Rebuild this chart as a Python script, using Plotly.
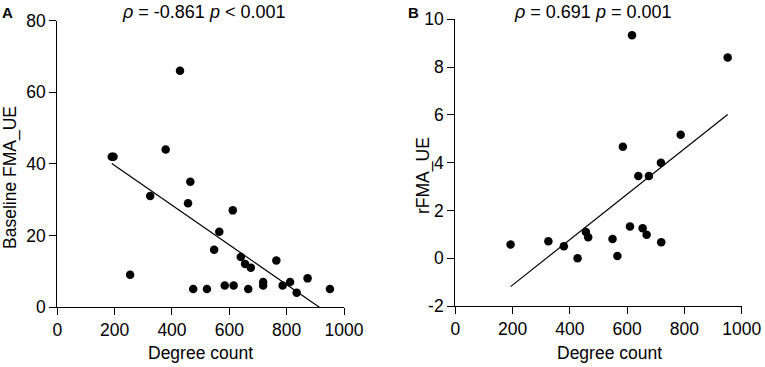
import numpy as np
import plotly.graph_objects as go

# Panel A data
deg_a = [190, 196, 428, 378, 464, 324, 456, 612, 565, 547, 640, 655, 675, 764, 254,
         474, 522, 584, 615, 666, 718, 718, 786, 812, 835, 873, 951]
fma_a = [42, 42, 66, 44, 35, 31, 29, 27, 21, 16, 14, 12, 11, 13, 9,
         5, 5, 6, 6, 5, 7, 6, 6, 7, 4, 8, 5]
# regression (slope, intercept) as drawn in the figure
fit_a = [-0.0555, 50.66]

# Panel B data
deg_b = [193, 325, 379, 427, 456, 464, 549, 566, 585, 610, 617, 639, 654, 668, 676,
         718, 719, 787, 951]
rfma_b = [0.57, 0.71, 0.50, 0.0, 1.10, 0.88, 0.80, 0.09, 4.67, 1.33, 9.33, 3.44,
          1.25, 0.98, 3.44, 4.0, 0.67, 5.17, 8.4]
fit_b = [0.00951, -3.025]

title_a = "<i>ρ</i> = -0.861 <i>p</i> &lt; 0.001"
title_b = "<i>ρ</i> = 0.691 <i>p</i> = 0.001"
xticks = [0, 200, 400, 600, 800, 1000]
yticks_a = [0, 20, 40, 60, 80]
yticks_b = [-2, 0, 2, 4, 6, 8, 10]

W, H = 765, 367
FONT = "Liberation Sans, Arial, sans-serif"

def fit_line(x, coef):
    xs = np.array([min(x), max(x)], dtype=float)
    return xs, coef[0] * xs + coef[1]

fig = go.Figure()
fx, fy = fit_line(deg_a, fit_a)
fig.add_trace(go.Scatter(x=fx, y=fy, mode="lines", line=dict(color="black", width=1.2),
                         xaxis="x", yaxis="y", showlegend=False))
fig.add_trace(go.Scatter(x=deg_a, y=fma_a, mode="markers", cliponaxis=False,
                         marker=dict(color="black", size=8.5), xaxis="x", yaxis="y",
                         showlegend=False))
fx, fy = fit_line(deg_b, fit_b)
fig.add_trace(go.Scatter(x=fx, y=fy, mode="lines", line=dict(color="black", width=1.2),
                         xaxis="x2", yaxis="y2", showlegend=False))
fig.add_trace(go.Scatter(x=deg_b, y=rfma_b, mode="markers", cliponaxis=False,
                         marker=dict(color="black", size=8.5), xaxis="x2", yaxis="y2",
                         showlegend=False))

axis_common = dict(showgrid=False, zeroline=False, showline=True, linecolor="black",
                   linewidth=1.3, ticks="outside", ticklen=7, tickwidth=1.3,
                   tickcolor="black", automargin=False,
                   tickfont=dict(family=FONT, size=17.5, color="black"))

fig.update_layout(
    width=W, height=H,
    margin=dict(l=0, r=0, t=0, b=0, autoexpand=False),
    plot_bgcolor="white", paper_bgcolor="white",
    xaxis=dict(domain=[57.3 / W, 344 / W], range=[0, 1000], tickvals=xticks,
               anchor="y", **axis_common),
    yaxis=dict(domain=[1 - 307 / H, 1 - 20.7 / H], range=[0, 80], tickvals=yticks_a,
               anchor="x", **axis_common),
    xaxis2=dict(domain=[455.3 / W, 741.7 / W], range=[0, 1000], tickvals=xticks,
                anchor="y2", **axis_common),
    yaxis2=dict(domain=[1 - 306 / H, 1 - 19.3 / H], range=[-2, 10], tickvals=yticks_b,
                ticktext=[str(v) for v in yticks_b], anchor="x2", **axis_common),
)

def ann(text, xpx, ypx, size=18, angle=0, bold=False):
    fig.add_annotation(text=f"<b>{text}</b>" if bold else text,
                       x=xpx / W, y=1 - ypx / H, xref="paper", yref="paper",
                       showarrow=False, textangle=angle, xanchor="center", yanchor="middle",
                       font=dict(family=FONT, size=size, color="black"))

ann(title_a, 203, 12)
ann(title_b, 592, 12)
ann("A", 8, 13, size=15, bold=True)
ann("B", 413, 13, size=15, bold=True)
ann("Baseline FMA_UE", 10, 178, size=17.5, angle=-90)
ann("rFMA_UE", 423, 176, size=17.5, angle=-90)
ann("Degree count", 200, 353, size=17.5)
ann("Degree count", 609, 353, size=17.5)

fig.write_html("out.html", config={"displayModeBar": False},
               post_script="document.body.style.margin='0';document.body.style.overflow='hidden';")
